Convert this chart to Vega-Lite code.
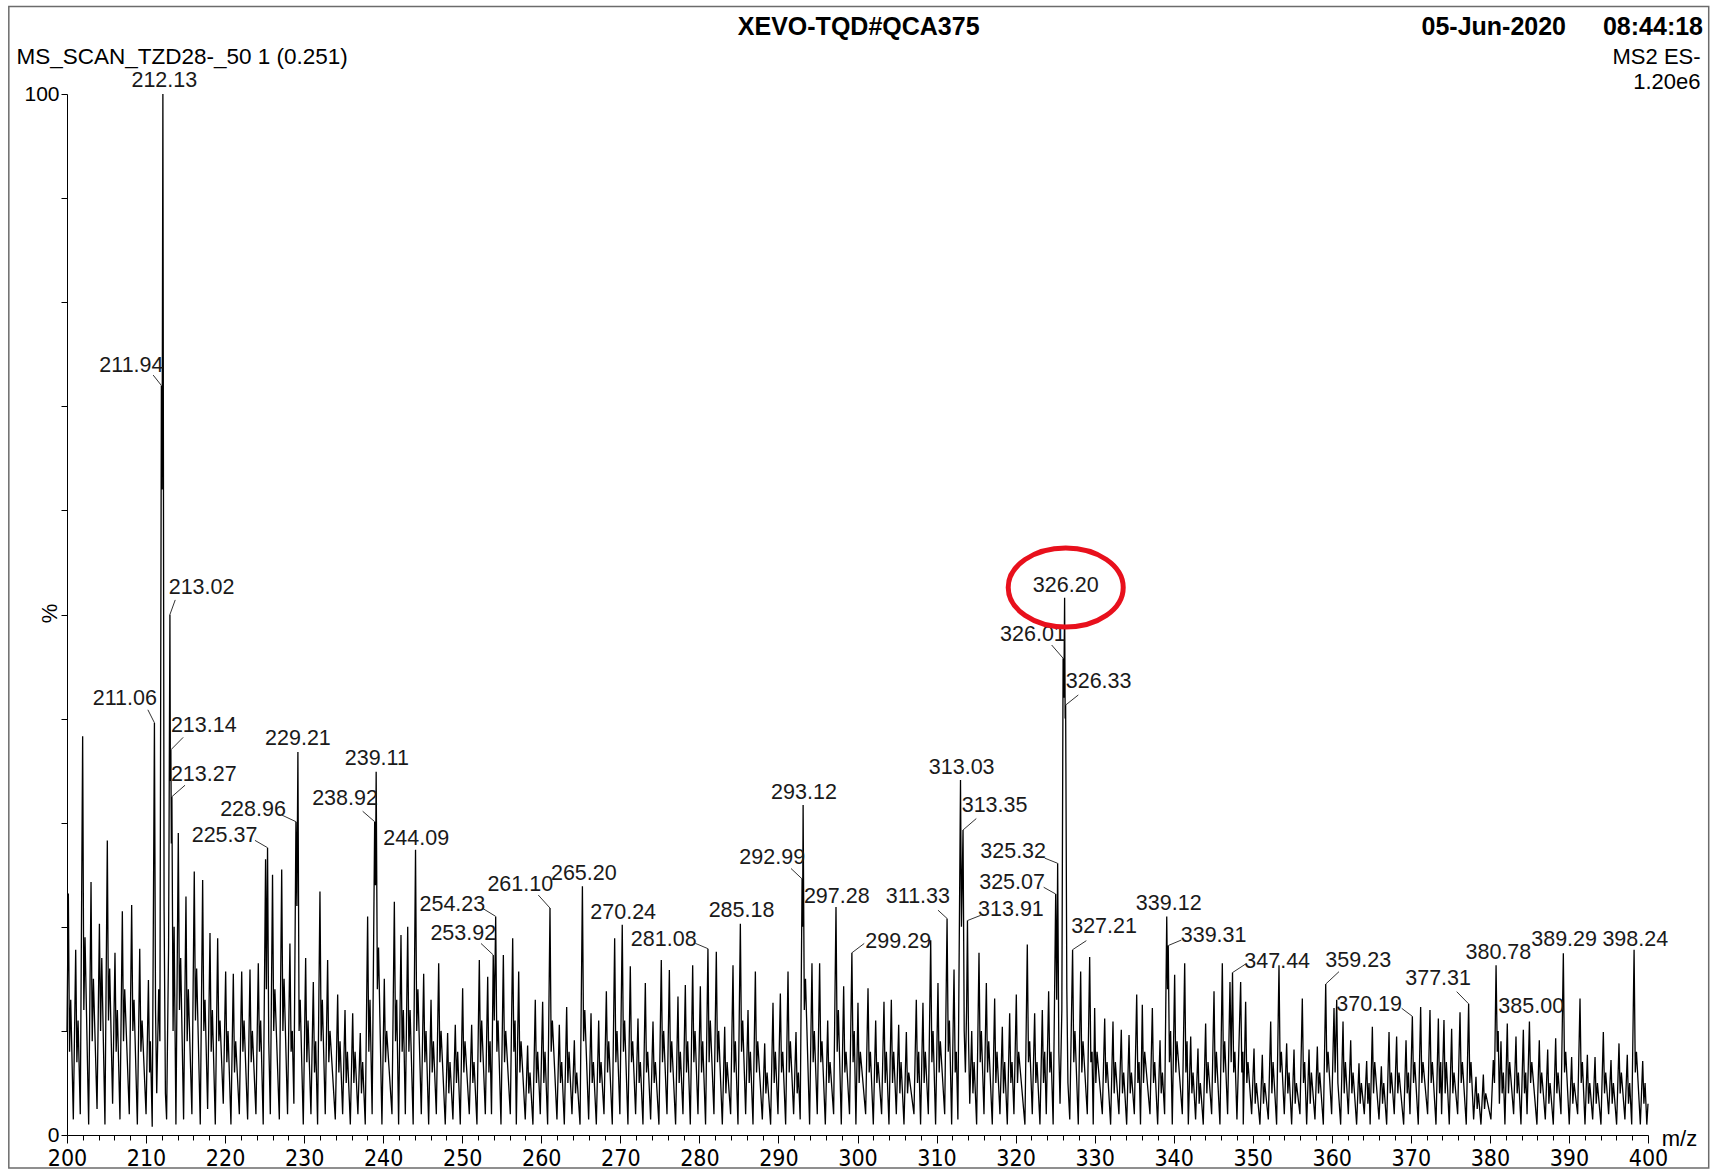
{
"$schema": "https://vega.github.io/schema/vega-lite/v6.json",
"width": 1581, "height": 1041,
"autosize": "none",
"padding": {"left": 67, "top": 94, "right": 69, "bottom": 37},
"background": "white",
"config": {"view": {"stroke": null}, "font": "Liberation Sans", "axis": {"grid": false}},
"datasets": {
"one": [{"k": 1}],
"spec": [
{"x":200.0,"y":10},{"x":200.17,"y":23.2},{"x":200.32,"y":8},{"x":200.47,"y":13},
{"x":200.8,"y":1.5},{"x":201.1,"y":17.8},{"x":201.25,"y":7},{"x":201.4,"y":11},
{"x":201.68,"y":2},{"x":201.98,"y":38.3},{"x":202.13,"y":12},{"x":202.28,"y":19},
{"x":202.74,"y":1},{"x":203.04,"y":24.3},{"x":203.19,"y":9},{"x":203.34,"y":15},
{"x":203.8,"y":2.5},{"x":204.1,"y":20.3},{"x":204.25,"y":10},{"x":204.4,"y":17},
{"x":204.8,"y":1},{"x":205.1,"y":28.3},{"x":205.25,"y":11},{"x":205.4,"y":16},
{"x":205.77,"y":3},{"x":206.07,"y":17.5},{"x":206.22,"y":8},{"x":206.37,"y":12},
{"x":206.7,"y":1.5},{"x":207.0,"y":21.5},{"x":207.15,"y":9},{"x":207.3,"y":14},
{"x":207.88,"y":2},{"x":208.18,"y":22.1},{"x":208.33,"y":10},{"x":208.48,"y":13},
{"x":208.9,"y":1},{"x":209.2,"y":17.9},{"x":209.35,"y":8},{"x":209.5,"y":11},
{"x":210.0,"y":2},{"x":210.3,"y":14.9},{"x":210.45,"y":6},{"x":210.55,"y":9},{"x":210.78,"y":0.8},
{"x":211.06,"y":39.6},{"x":211.2,"y":12},{"x":211.35,"y":4},{"x":211.6,"y":14},{"x":211.75,"y":9},
{"x":211.94,"y":72},{"x":212.03,"y":62},{"x":212.13,"y":100},{"x":212.28,"y":22},{"x":212.45,"y":4},
{"x":212.6,"y":1.5},{"x":212.85,"y":18},{"x":213.02,"y":50},{"x":213.08,"y":34},{"x":213.14,"y":37},
{"x":213.2,"y":28},{"x":213.27,"y":32.5},{"x":213.42,"y":10},{"x":213.55,"y":20},{"x":213.78,"y":1},
{"x":214.08,"y":29},{"x":214.23,"y":12},{"x":214.38,"y":17},
{"x":214.75,"y":1.5},{"x":215.05,"y":22.9},{"x":215.2,"y":9},{"x":215.35,"y":14},
{"x":215.8,"y":2},{"x":216.1,"y":25.3},{"x":216.25,"y":11},{"x":216.4,"y":16},
{"x":216.86,"y":1},{"x":217.16,"y":24.5},{"x":217.31,"y":10},{"x":217.46,"y":13},
{"x":217.79,"y":2.5},{"x":218.09,"y":19.4},{"x":218.24,"y":8},{"x":218.39,"y":12},
{"x":218.76,"y":1},{"x":219.06,"y":18.9},{"x":219.21,"y":9},{"x":219.36,"y":11},
{"x":219.77,"y":3},{"x":220.07,"y":15.7},{"x":220.22,"y":7},{"x":220.37,"y":10},
{"x":220.74,"y":1},{"x":221.04,"y":15.5},{"x":221.19,"y":6},{"x":221.34,"y":9},
{"x":221.8,"y":2},{"x":222.1,"y":15.7},{"x":222.25,"y":8},{"x":222.4,"y":11},
{"x":222.85,"y":1.5},{"x":223.15,"y":15.9},{"x":223.3,"y":7},{"x":223.45,"y":10},
{"x":223.9,"y":2},{"x":224.2,"y":16.5},{"x":224.35,"y":8},{"x":224.5,"y":11},
{"x":224.82,"y":1},{"x":225.12,"y":26.5},{"x":225.22,"y":14},{"x":225.37,"y":27.6},{"x":225.52,"y":9},
{"x":225.72,"y":2},{"x":226.0,"y":25},{"x":226.15,"y":10},{"x":226.3,"y":14},
{"x":226.86,"y":1.5},{"x":227.16,"y":25.5},{"x":227.31,"y":10},{"x":227.46,"y":15},
{"x":227.9,"y":2},{"x":228.2,"y":18.4},{"x":228.35,"y":8},{"x":228.5,"y":10},{"x":228.7,"y":3},
{"x":228.96,"y":30.1},{"x":229.08,"y":22},{"x":229.21,"y":36.8},{"x":229.36,"y":10},{"x":229.5,"y":13},
{"x":229.89,"y":1},{"x":230.19,"y":17},{"x":230.34,"y":7},{"x":230.49,"y":11},
{"x":230.86,"y":2},{"x":231.16,"y":14.7},{"x":231.31,"y":6},{"x":231.46,"y":9},
{"x":231.7,"y":1},{"x":232.0,"y":23.4},{"x":232.15,"y":9},{"x":232.3,"y":13},
{"x":232.67,"y":2},{"x":232.97,"y":16.8},{"x":233.12,"y":7},{"x":233.27,"y":10},
{"x":233.94,"y":1.5},{"x":234.24,"y":13.5},{"x":234.39,"y":6},{"x":234.54,"y":9},
{"x":234.87,"y":2},{"x":235.17,"y":12},{"x":235.32,"y":5},{"x":235.47,"y":8},
{"x":235.84,"y":1},{"x":236.14,"y":11.7},{"x":236.29,"y":5},{"x":236.44,"y":8},
{"x":236.8,"y":2},{"x":237.1,"y":9.8},{"x":237.25,"y":4},{"x":237.4,"y":7},
{"x":237.73,"y":1},{"x":238.03,"y":21},{"x":238.18,"y":8},{"x":238.33,"y":13},{"x":238.6,"y":2},
{"x":238.92,"y":30.1},{"x":239.02,"y":24},{"x":239.11,"y":34.9},{"x":239.26,"y":14},{"x":239.41,"y":18},
{"x":239.84,"y":1},{"x":240.14,"y":15},{"x":240.29,"y":7},{"x":240.44,"y":10},
{"x":241.11,"y":2},{"x":241.41,"y":22.4},{"x":241.56,"y":9},{"x":241.71,"y":13},
{"x":241.95,"y":1},{"x":242.25,"y":19.2},{"x":242.4,"y":8},{"x":242.55,"y":12},
{"x":242.8,"y":2},{"x":243.1,"y":20},{"x":243.25,"y":8},{"x":243.4,"y":12},
{"x":243.79,"y":1},{"x":244.09,"y":27.4},{"x":244.24,"y":10},{"x":244.39,"y":14},
{"x":244.82,"y":2},{"x":245.12,"y":15.5},{"x":245.27,"y":7},{"x":245.42,"y":10},
{"x":245.75,"y":1},{"x":246.05,"y":13},{"x":246.2,"y":6},{"x":246.35,"y":9},
{"x":246.72,"y":2},{"x":247.02,"y":16.5},{"x":247.17,"y":7},{"x":247.32,"y":10},
{"x":247.85,"y":1},{"x":248.15,"y":9.8},{"x":248.3,"y":4},{"x":248.45,"y":7},
{"x":248.82,"y":1.5},{"x":249.12,"y":10.6},{"x":249.27,"y":5},{"x":249.42,"y":8},
{"x":249.75,"y":1},{"x":250.05,"y":14.1},{"x":250.2,"y":6},{"x":250.35,"y":9},
{"x":250.89,"y":2},{"x":251.19,"y":10.6},{"x":251.34,"y":5},{"x":251.49,"y":7},
{"x":251.86,"y":1},{"x":252.16,"y":16.8},{"x":252.31,"y":7},{"x":252.46,"y":11},
{"x":252.92,"y":2},{"x":253.22,"y":15.2},{"x":253.37,"y":6},{"x":253.52,"y":9},{"x":253.7,"y":2},
{"x":253.92,"y":17.3},{"x":254.05,"y":11},{"x":254.23,"y":21},{"x":254.38,"y":8},{"x":254.53,"y":11},
{"x":254.9,"y":1},{"x":255.2,"y":17.3},{"x":255.35,"y":7},{"x":255.5,"y":10},
{"x":256.08,"y":2},{"x":256.38,"y":18.9},{"x":256.53,"y":8},{"x":256.68,"y":11},
{"x":256.84,"y":1},{"x":257.14,"y":15.7},{"x":257.29,"y":6},{"x":257.44,"y":9},
{"x":257.97,"y":1.5},{"x":258.27,"y":8.6},{"x":258.42,"y":4},{"x":258.57,"y":6},
{"x":258.94,"y":1},{"x":259.24,"y":13},{"x":259.39,"y":5},{"x":259.54,"y":8},
{"x":259.87,"y":2},{"x":260.17,"y":12.8},{"x":260.32,"y":5},{"x":260.47,"y":8},
{"x":260.8,"y":1},{"x":261.1,"y":21.8},{"x":261.25,"y":8},{"x":261.4,"y":11},
{"x":261.98,"y":1.5},{"x":262.28,"y":10.6},{"x":262.43,"y":5},{"x":262.58,"y":7},
{"x":262.91,"y":1},{"x":263.21,"y":12.3},{"x":263.36,"y":5},{"x":263.51,"y":8},
{"x":263.88,"y":2},{"x":264.18,"y":9.1},{"x":264.33,"y":4},{"x":264.48,"y":6},
{"x":264.9,"y":1},{"x":265.2,"y":23.9},{"x":265.35,"y":9},{"x":265.5,"y":12},
{"x":265.99,"y":1.5},{"x":266.29,"y":11.7},{"x":266.44,"y":5},{"x":266.59,"y":7},
{"x":266.96,"y":1},{"x":267.26,"y":11},{"x":267.41,"y":5},{"x":267.56,"y":7},
{"x":267.93,"y":2},{"x":268.23,"y":13.8},{"x":268.38,"y":6},{"x":268.53,"y":9},
{"x":268.98,"y":1},{"x":269.28,"y":18.9},{"x":269.43,"y":7},{"x":269.58,"y":10},
{"x":269.94,"y":2},{"x":270.24,"y":20.2},{"x":270.39,"y":8},{"x":270.54,"y":11},
{"x":270.96,"y":1},{"x":271.26,"y":16.2},{"x":271.41,"y":7},{"x":271.56,"y":9},
{"x":271.93,"y":2},{"x":272.23,"y":11.2},{"x":272.38,"y":5},{"x":272.53,"y":7},
{"x":272.86,"y":1},{"x":273.16,"y":14.6},{"x":273.31,"y":6},{"x":273.46,"y":8},
{"x":273.83,"y":1.5},{"x":274.13,"y":10.9},{"x":274.28,"y":5},{"x":274.43,"y":7},
{"x":274.88,"y":1},{"x":275.18,"y":16.8},{"x":275.33,"y":7},{"x":275.48,"y":10},
{"x":275.9,"y":2},{"x":276.2,"y":15.85},{"x":276.35,"y":6},{"x":276.5,"y":9},
{"x":276.99,"y":1},{"x":277.29,"y":13.3},{"x":277.44,"y":5},{"x":277.59,"y":8},
{"x":277.92,"y":2},{"x":278.22,"y":14.4},{"x":278.37,"y":6},{"x":278.52,"y":9},
{"x":278.85,"y":1},{"x":279.15,"y":16.3},{"x":279.3,"y":7},{"x":279.45,"y":10},
{"x":279.82,"y":2},{"x":280.12,"y":14.3},{"x":280.27,"y":6},{"x":280.42,"y":9},
{"x":280.78,"y":1},{"x":281.08,"y":17.9},{"x":281.23,"y":7},{"x":281.38,"y":11},
{"x":281.84,"y":2},{"x":282.14,"y":17.6},{"x":282.29,"y":7},{"x":282.44,"y":10},
{"x":282.9,"y":1},{"x":283.2,"y":10.4},{"x":283.35,"y":4},{"x":283.5,"y":7},
{"x":283.95,"y":2},{"x":284.25,"y":16.3},{"x":284.4,"y":6},{"x":284.55,"y":9},
{"x":284.88,"y":1},{"x":285.18,"y":20.3},{"x":285.33,"y":8},{"x":285.48,"y":11},
{"x":285.85,"y":2},{"x":286.15,"y":12},{"x":286.3,"y":5},{"x":286.45,"y":8},
{"x":286.78,"y":1},{"x":287.08,"y":15.7},{"x":287.23,"y":6},{"x":287.38,"y":9},
{"x":287.96,"y":1.5},{"x":288.26,"y":8.8},{"x":288.41,"y":4},{"x":288.56,"y":6},
{"x":289.01,"y":1},{"x":289.31,"y":12.7},{"x":289.46,"y":5},{"x":289.61,"y":8},
{"x":289.94,"y":2},{"x":290.24,"y":13.6},{"x":290.39,"y":6},{"x":290.54,"y":8},
{"x":290.91,"y":1},{"x":291.21,"y":15.7},{"x":291.36,"y":6},{"x":291.51,"y":9},
{"x":291.92,"y":2},{"x":292.22,"y":9.9},{"x":292.37,"y":4},{"x":292.52,"y":6},{"x":292.75,"y":1.5},
{"x":292.99,"y":24.6},{"x":293.05,"y":20},{"x":293.12,"y":31.7},{"x":293.27,"y":12},{"x":293.42,"y":15},
{"x":293.94,"y":1},{"x":294.24,"y":16.5},{"x":294.39,"y":7},{"x":294.54,"y":10},
{"x":294.91,"y":2},{"x":295.21,"y":16.5},{"x":295.36,"y":7},{"x":295.51,"y":9},
{"x":295.93,"y":1},{"x":296.23,"y":11},{"x":296.38,"y":5},{"x":296.53,"y":7},
{"x":296.98,"y":2},{"x":297.28,"y":21.9},{"x":297.43,"y":8},{"x":297.58,"y":12},
{"x":297.95,"y":1},{"x":298.25,"y":14.3},{"x":298.4,"y":6},{"x":298.55,"y":8},
{"x":298.99,"y":2},{"x":299.29,"y":17.5},{"x":299.44,"y":7},{"x":299.59,"y":10},
{"x":299.8,"y":1},{"x":300.06,"y":12.7},{"x":300.21,"y":5},{"x":300.36,"y":8},
{"x":301.03,"y":2},{"x":301.33,"y":14.1},{"x":301.48,"y":6},{"x":301.63,"y":8},
{"x":302.0,"y":1},{"x":302.3,"y":11},{"x":302.45,"y":5},{"x":302.6,"y":7},
{"x":303.05,"y":2},{"x":303.35,"y":12.8},{"x":303.5,"y":5},{"x":303.65,"y":8},
{"x":303.98,"y":1},{"x":304.28,"y":13},{"x":304.43,"y":5},{"x":304.58,"y":8},
{"x":304.91,"y":2},{"x":305.21,"y":10.6},{"x":305.36,"y":4},{"x":305.51,"y":7},
{"x":305.88,"y":1},{"x":306.18,"y":9.9},{"x":306.33,"y":4},{"x":306.48,"y":6},
{"x":307.14,"y":2},{"x":307.44,"y":13},{"x":307.59,"y":5},{"x":307.74,"y":8},
{"x":307.98,"y":1},{"x":308.28,"y":12.7},{"x":308.43,"y":5},{"x":308.58,"y":8},
{"x":308.96,"y":2},{"x":309.26,"y":18.7},{"x":309.41,"y":7},{"x":309.56,"y":10},
{"x":309.88,"y":1},{"x":310.18,"y":14.6},{"x":310.33,"y":6},{"x":310.48,"y":9},
{"x":311.03,"y":2},{"x":311.33,"y":20.8},{"x":311.48,"y":8},{"x":311.63,"y":11},
{"x":311.91,"y":1},{"x":312.21,"y":15.9},{"x":312.36,"y":6},{"x":312.5,"y":8},{"x":312.7,"y":1.5},
{"x":313.03,"y":34.1},{"x":313.15,"y":20},{"x":313.35,"y":29.3},{"x":313.5,"y":10},{"x":313.65,"y":6},
{"x":313.8,"y":12},{"x":313.91,"y":20.6},{"x":314.05,"y":9},
{"x":314.2,"y":3},{"x":314.45,"y":10},{"x":314.6,"y":4},{"x":314.75,"y":7},
{"x":315.07,"y":1},{"x":315.37,"y":17.5},{"x":315.52,"y":7},{"x":315.67,"y":10},
{"x":316.0,"y":2},{"x":316.3,"y":14.6},{"x":316.45,"y":6},{"x":316.6,"y":9},
{"x":317.05,"y":1},{"x":317.35,"y":13.1},{"x":317.5,"y":5},{"x":317.65,"y":8},
{"x":318.02,"y":2},{"x":318.32,"y":10.4},{"x":318.47,"y":4},{"x":318.62,"y":7},
{"x":318.95,"y":1},{"x":319.25,"y":11.7},{"x":319.4,"y":5},{"x":319.55,"y":7},
{"x":319.79,"y":2},{"x":320.09,"y":13.5},{"x":320.24,"y":5},{"x":320.39,"y":8},
{"x":321.18,"y":1},{"x":321.48,"y":18.3},{"x":321.63,"y":7},{"x":321.78,"y":9},
{"x":322.11,"y":2},{"x":322.41,"y":11.7},{"x":322.56,"y":5},{"x":322.71,"y":7},
{"x":323.08,"y":1},{"x":323.38,"y":12},{"x":323.53,"y":5},{"x":323.68,"y":8},
{"x":323.88,"y":2},{"x":324.18,"y":13.8},{"x":324.33,"y":6},{"x":324.48,"y":8},{"x":324.75,"y":1},
{"x":325.07,"y":23.15},{"x":325.2,"y":13},{"x":325.32,"y":26.1},{"x":325.47,"y":8},{"x":325.62,"y":3},{"x":325.85,"y":12},
{"x":326.01,"y":45.8},{"x":326.1,"y":42},{"x":326.2,"y":51.6},{"x":326.27,"y":40},{"x":326.33,"y":41.3},
{"x":326.48,"y":14},{"x":326.62,"y":5},{"x":326.85,"y":1.5},
{"x":327.21,"y":17.8},{"x":327.36,"y":7},{"x":327.51,"y":10},
{"x":327.93,"y":1},{"x":328.23,"y":15.7},{"x":328.38,"y":6},{"x":328.53,"y":9},
{"x":329.07,"y":2},{"x":329.37,"y":17.1},{"x":329.52,"y":7},{"x":329.67,"y":8},
{"x":329.82,"y":1},{"x":330.0,"y":12.2},{"x":330.15,"y":5},{"x":330.3,"y":8},
{"x":330.97,"y":2},{"x":331.27,"y":11.2},{"x":331.42,"y":5},{"x":331.57,"y":7},
{"x":332.02,"y":1},{"x":332.32,"y":10.9},{"x":332.47,"y":4},{"x":332.62,"y":7},
{"x":333.07,"y":2},{"x":333.37,"y":10.1},{"x":333.52,"y":4},{"x":333.67,"y":6},
{"x":334.05,"y":1},{"x":334.35,"y":9.6},{"x":334.5,"y":4},{"x":334.65,"y":6},
{"x":335.02,"y":2},{"x":335.32,"y":13.5},{"x":335.47,"y":5},{"x":335.62,"y":7},
{"x":335.8,"y":1},{"x":336.03,"y":12.5},{"x":336.18,"y":5},{"x":336.33,"y":8},
{"x":337.0,"y":2},{"x":337.3,"y":12.2},{"x":337.45,"y":5},{"x":337.6,"y":7},
{"x":337.97,"y":1},{"x":338.27,"y":9.1},{"x":338.42,"y":4},{"x":338.57,"y":6},{"x":338.85,"y":2},
{"x":339.12,"y":21},{"x":339.22,"y":14},{"x":339.31,"y":18.2},{"x":339.46,"y":7},{"x":339.61,"y":10},
{"x":339.82,"y":1},{"x":340.12,"y":15.4},{"x":340.27,"y":6},{"x":340.42,"y":9},
{"x":341.09,"y":2},{"x":341.39,"y":16.5},{"x":341.54,"y":6},{"x":341.69,"y":9},
{"x":341.85,"y":1},{"x":342.15,"y":9.45},{"x":342.3,"y":4},{"x":342.45,"y":6},
{"x":342.77,"y":1.5},{"x":343.07,"y":8.3},{"x":343.22,"y":3},{"x":343.37,"y":5},
{"x":343.74,"y":1},{"x":344.04,"y":10.7},{"x":344.19,"y":4},{"x":344.34,"y":7},
{"x":344.8,"y":2},{"x":345.1,"y":13.8},{"x":345.25,"y":5},{"x":345.4,"y":8},
{"x":345.85,"y":1},{"x":346.15,"y":16.5},{"x":346.3,"y":6},{"x":346.45,"y":9},
{"x":346.82,"y":2},{"x":347.12,"y":14.7},{"x":347.27,"y":7},{"x":347.44,"y":15.6},{"x":347.59,"y":6},{"x":347.74,"y":8},
{"x":348.0,"y":1.5},{"x":348.47,"y":14.7},{"x":348.62,"y":6},{"x":348.75,"y":8},
{"x":348.8,"y":1},{"x":349.1,"y":12.8},{"x":349.25,"y":5},{"x":349.4,"y":7},
{"x":349.86,"y":2},{"x":350.16,"y":8.3},{"x":350.31,"y":3},{"x":350.46,"y":5},
{"x":350.91,"y":1},{"x":351.21,"y":7.7},{"x":351.36,"y":3},{"x":351.51,"y":5},
{"x":351.97,"y":1.5},{"x":352.27,"y":10.9},{"x":352.42,"y":4},{"x":352.57,"y":7},
{"x":353.02,"y":1},{"x":353.32,"y":16.3},{"x":353.47,"y":6},{"x":353.62,"y":8},
{"x":353.99,"y":2},{"x":354.29,"y":8.8},{"x":354.44,"y":4},{"x":354.59,"y":6},
{"x":354.92,"y":1},{"x":355.22,"y":8.2},{"x":355.37,"y":3},{"x":355.52,"y":5},
{"x":355.97,"y":2},{"x":356.27,"y":13.1},{"x":356.42,"y":5},{"x":356.57,"y":7},
{"x":356.82,"y":1},{"x":357.12,"y":8.2},{"x":357.27,"y":3},{"x":357.42,"y":6},
{"x":357.87,"y":1.5},{"x":358.17,"y":8.5},{"x":358.32,"y":4},{"x":358.47,"y":6},
{"x":358.93,"y":1},{"x":359.23,"y":14.5},{"x":359.38,"y":6},{"x":359.53,"y":8},
{"x":359.98,"y":2},{"x":360.28,"y":12.2},{"x":360.42,"y":6},{"x":360.62,"y":13},{"x":360.77,"y":5},
{"x":361.12,"y":1},{"x":361.42,"y":10.9},{"x":361.57,"y":4},{"x":361.72,"y":7},
{"x":362.09,"y":2},{"x":362.39,"y":9.1},{"x":362.54,"y":4},{"x":362.69,"y":6},
{"x":363.14,"y":1},{"x":363.44,"y":6.9},{"x":363.59,"y":3},{"x":363.74,"y":5},
{"x":364.11,"y":2},{"x":364.41,"y":7.1},{"x":364.56,"y":3},{"x":364.71,"y":5},
{"x":364.85,"y":1},{"x":365.13,"y":10.4},{"x":365.28,"y":4},{"x":365.43,"y":7},
{"x":365.97,"y":1.5},{"x":366.27,"y":6.6},{"x":366.42,"y":3},{"x":366.57,"y":5},
{"x":366.94,"y":1},{"x":367.24,"y":9.9},{"x":367.39,"y":4},{"x":367.54,"y":6},
{"x":367.9,"y":2},{"x":368.2,"y":9.45},{"x":368.35,"y":4},{"x":368.5,"y":6},
{"x":369.09,"y":1},{"x":369.39,"y":9.1},{"x":369.54,"y":4},{"x":369.69,"y":6},
{"x":369.89,"y":2},{"x":370.19,"y":11.4},{"x":370.34,"y":5},{"x":370.49,"y":7},
{"x":370.94,"y":1},{"x":371.24,"y":12.3},{"x":371.39,"y":5},{"x":371.54,"y":7},
{"x":372.12,"y":2},{"x":372.42,"y":12},{"x":372.57,"y":5},{"x":372.72,"y":7},
{"x":373.18,"y":1},{"x":373.48,"y":11.2},{"x":373.63,"y":4},{"x":373.78,"y":7},
{"x":373.89,"y":2},{"x":374.19,"y":11.05},{"x":374.34,"y":4},{"x":374.49,"y":7},
{"x":374.86,"y":1},{"x":375.16,"y":10.2},{"x":375.31,"y":4},{"x":375.46,"y":6},
{"x":375.92,"y":2},{"x":376.22,"y":11.8},{"x":376.37,"y":5},{"x":376.52,"y":7},
{"x":377.01,"y":1},{"x":377.31,"y":12.6},{"x":377.46,"y":5},{"x":377.61,"y":7},
{"x":377.94,"y":1.5},{"x":378.24,"y":5.6},{"x":378.39,"y":2.5},{"x":378.54,"y":4},
{"x":378.87,"y":1},{"x":379.17,"y":5.8},{"x":379.32,"y":2.5},{"x":379.47,"y":4},
{"x":380.13,"y":1.5},{"x":380.43,"y":7.2},{"x":380.58,"y":5},{"x":380.78,"y":16.3},{"x":380.93,"y":8},{"x":381.05,"y":10},
{"x":381.2,"y":3},{"x":381.4,"y":9},{"x":381.55,"y":4},{"x":381.7,"y":6},
{"x":381.9,"y":1},{"x":382.2,"y":10.7},{"x":382.35,"y":4},{"x":382.5,"y":7},
{"x":383.0,"y":2},{"x":383.3,"y":9.45},{"x":383.45,"y":4},{"x":383.6,"y":6},
{"x":383.93,"y":1},{"x":384.23,"y":10.1},{"x":384.38,"y":4},{"x":384.53,"y":6},
{"x":384.7,"y":2},{"x":385.0,"y":10.9},{"x":385.15,"y":5},{"x":385.3,"y":7},
{"x":385.95,"y":1},{"x":386.25,"y":9.1},{"x":386.4,"y":4},{"x":386.55,"y":6},
{"x":387.01,"y":1.5},{"x":387.31,"y":8.2},{"x":387.46,"y":3},{"x":387.61,"y":5},
{"x":388.02,"y":1},{"x":388.32,"y":9.3},{"x":388.47,"y":4},{"x":388.62,"y":6},
{"x":388.99,"y":2},{"x":389.29,"y":17.45},{"x":389.44,"y":6},{"x":389.59,"y":8},
{"x":390.04,"y":1},{"x":390.34,"y":7.5},{"x":390.49,"y":3},{"x":390.64,"y":5},
{"x":391.1,"y":2},{"x":391.4,"y":13.1},{"x":391.55,"y":5},{"x":391.7,"y":7},
{"x":392.03,"y":1},{"x":392.33,"y":7.7},{"x":392.48,"y":3},{"x":392.63,"y":5},
{"x":393.0,"y":1.5},{"x":393.3,"y":7.5},{"x":393.45,"y":3},{"x":393.6,"y":5},
{"x":394.05,"y":1},{"x":394.35,"y":9.9},{"x":394.5,"y":4},{"x":394.65,"y":6},
{"x":395.02,"y":2},{"x":395.32,"y":7.2},{"x":395.47,"y":3},{"x":395.62,"y":5},
{"x":396.03,"y":1},{"x":396.33,"y":8.8},{"x":396.48,"y":4},{"x":396.63,"y":6},
{"x":397.08,"y":1.5},{"x":397.38,"y":7.7},{"x":397.53,"y":3},{"x":397.68,"y":5},
{"x":397.94,"y":1},{"x":398.24,"y":17.8},{"x":398.39,"y":6},{"x":398.54,"y":8},
{"x":399.03,"y":1},{"x":399.33,"y":7.1},{"x":399.48,"y":3},{"x":399.63,"y":5},
{"x":399.85,"y":1},{"x":400.0,"y":3}
],
"labels": [
{"t":"212.13","lx":212.31,"ly":101.24},{"t":"211.94","lx":208.15,"ly":73.9},{"t":"213.02","lx":217.02,"ly":52.5},
{"t":"211.06","lx":207.32,"ly":41.9},{"t":"213.14","lx":217.3,"ly":39.3},{"t":"213.27","lx":217.3,"ly":34.6},
{"t":"229.21","lx":229.21,"ly":38.0},{"t":"228.96","lx":223.53,"ly":31.2},{"t":"225.37","lx":219.93,"ly":28.7},
{"t":"239.11","lx":239.19,"ly":36.1},{"t":"238.92","lx":235.17,"ly":32.3},{"t":"244.09","lx":244.18,"ly":28.4},
{"t":"254.23","lx":248.75,"ly":22.1},{"t":"253.92","lx":250.13,"ly":19.3},{"t":"261.10","lx":257.34,"ly":24.0},
{"t":"265.20","lx":265.38,"ly":25.1},{"t":"270.24","lx":270.36,"ly":21.3},{"t":"281.08","lx":275.49,"ly":18.7},
{"t":"285.18","lx":285.33,"ly":21.5},{"t":"293.12","lx":293.23,"ly":32.85},{"t":"292.99","lx":289.21,"ly":26.6},
{"t":"297.28","lx":297.38,"ly":22.9},{"t":"299.29","lx":305.15,"ly":18.5},{"t":"311.33","lx":307.64,"ly":22.9},
{"t":"313.03","lx":313.18,"ly":35.3},{"t":"313.35","lx":317.34,"ly":31.6},{"t":"313.91","lx":319.41,"ly":21.6},
{"t":"325.32","lx":319.69,"ly":27.2},{"t":"325.07","lx":319.55,"ly":24.2},{"t":"326.20","lx":326.34,"ly":52.7},
{"t":"326.01","lx":322.19,"ly":48.0},{"t":"326.33","lx":330.5,"ly":43.5},{"t":"327.21","lx":331.19,"ly":20.0},
{"t":"339.12","lx":339.37,"ly":22.2},{"t":"339.31","lx":345.05,"ly":19.07},{"t":"347.44","lx":353.09,"ly":16.6},
{"t":"359.23","lx":363.34,"ly":16.7},{"t":"370.19","lx":364.72,"ly":12.5},{"t":"377.31","lx":373.45,"ly":14.96},
{"t":"380.78","lx":381.07,"ly":17.5},{"t":"385.00","lx":385.23,"ly":12.3},{"t":"389.29","lx":389.39,"ly":18.75},
{"t":"398.24","lx":398.39,"ly":18.75}
],
"leads": [
{"x1":210.9,"y1":73.0,"x2":211.94,"y2":72},{"x1":213.69,"y1":51.4,"x2":213.02,"y2":50},
{"x1":210.23,"y1":40.85,"x2":211.06,"y2":39.6},{"x1":214.7,"y1":38.2,"x2":213.14,"y2":37},
{"x1":214.93,"y1":33.6,"x2":213.27,"y2":32.5},{"x1":227.16,"y1":30.74,"x2":228.96,"y2":30.1},
{"x1":223.78,"y1":28.3,"x2":225.37,"y2":27.6},{"x1":237.4,"y1":31.1,"x2":238.92,"y2":30.1},
{"x1":252.58,"y1":21.77,"x2":254.23,"y2":21.0},{"x1":252.37,"y1":18.4,"x2":253.92,"y2":17.3},
{"x1":259.62,"y1":23.05,"x2":261.1,"y2":21.8},{"x1":279.49,"y1":18.41,"x2":281.08,"y2":17.9},
{"x1":291.59,"y1":25.6,"x2":292.99,"y2":24.6},{"x1":300.85,"y1":18.4,"x2":299.29,"y2":17.5},
{"x1":310.18,"y1":21.6,"x2":311.33,"y2":20.8},{"x1":315.03,"y1":30.4,"x2":313.35,"y2":29.3},
{"x1":315.58,"y1":21.1,"x2":313.91,"y2":20.6},{"x1":323.68,"y1":26.6,"x2":325.32,"y2":26.1},
{"x1":323.55,"y1":23.8,"x2":325.07,"y2":23.15},{"x1":324.56,"y1":47.07,"x2":326.01,"y2":45.8},
{"x1":327.93,"y1":42.27,"x2":326.33,"y2":41.3},{"x1":328.95,"y1":18.67,"x2":327.21,"y2":17.8},
{"x1":340.97,"y1":18.73,"x2":339.31,"y2":18.2},{"x1":349.23,"y1":16.49,"x2":347.44,"y2":15.6},
{"x1":360.91,"y1":15.69,"x2":359.23,"y2":14.5},{"x1":368.84,"y1":12.17,"x2":370.19,"y2":11.4},
{"x1":375.8,"y1":13.77,"x2":377.31,"y2":12.6}
]
},
"layer": [
{"data": {"name": "one"},
 "mark": {"type": "rect", "fillOpacity": 0, "stroke": "#6b6b6b", "strokeWidth": 1.5},
 "encoding": {"x": {"datum": 192.64, "type": "quantitative"}, "x2": {"datum": 407.68}, "y": {"datum": 108.4, "type": "quantitative"}, "y2": {"datum": -3.17}}},
{"data": {"name": "spec"},
 "mark": {"type": "line", "color": "black", "strokeWidth": 1.3, "strokeJoin": "bevel"},
 "encoding": {
  "x": {"field": "x", "type": "quantitative", "scale": {"domain": [200, 400], "nice": false, "zero": false},
   "axis": {"title": "m/z", "titleX": 1612, "titleY": 3, "titleAlign": "center", "titleBaseline": "middle", "titleFont": "Liberation Sans", "titleFontSize": 22, "titleFontWeight": "normal", "titleColor": "black", "titleAnchor": null,
    "tickCount": 100, "format": "d", "labelExpr": "datum.value % 10 === 0 ? datum.label : ''", "labelOverlap": false, "labelFlush": false,
    "labelFont": "DejaVu Sans Condensed, Liberation Sans Narrow, sans-serif", "labelFontSize": 23, "labelColor": "black", "labelPadding": 4,
    "tickColor": "black", "domainColor": "black", "domainWidth": 1, "tickWidth": 1,
    "tickSize": {"condition": {"test": "datum.value % 10 === 0", "value": 8}, "value": 5}}},
  "y": {"field": "y", "type": "quantitative", "scale": {"domain": [0, 100], "nice": false, "zero": true},
   "axis": {"title": "%", "titleX": -18, "titleY": 519, "titleAngle": -90, "titleAlign": "center", "titleBaseline": "middle", "titleFont": "Liberation Sans", "titleFontSize": 22, "titleFontWeight": "normal", "titleColor": "black", "titleAnchor": null,
    "values": [0, 10, 20, 30, 40, 50, 60, 70, 80, 90, 100], "labelExpr": "datum.value === 0 || datum.value === 100 ? datum.label : ''", "labelOverlap": false, "labelFlush": false,
    "labelFont": "Liberation Sans", "labelFontSize": 21, "labelColor": "black", "labelPadding": 2, "labelBaseline": "middle",
    "tickColor": "black", "domainColor": "black", "tickSize": 6}}
 }},
{"data": {"name": "leads"},
 "mark": {"type": "rule", "color": "#333333", "strokeWidth": 1},
 "encoding": {"x": {"field": "x1", "type": "quantitative"}, "y": {"field": "y1", "type": "quantitative"}, "x2": {"field": "x2"}, "y2": {"field": "y2"}}},
{"data": {"name": "labels"},
 "mark": {"type": "text", "font": "Liberation Sans", "fontSize": 21.5, "color": "#1a1a1a", "align": "center", "baseline": "middle"},
 "encoding": {"x": {"field": "lx", "type": "quantitative"}, "y": {"field": "ly", "type": "quantitative"}, "text": {"field": "t", "type": "nominal"}}},
{"data": {"name": "one"},
 "mark": {"type": "point", "shape": "M 1 0 C 1 0.3794 0.5523 0.687 0 0.687 C -0.5523 0.687 -1 0.3794 -1 0 C -1 -0.3794 -0.5523 -0.687 0 -0.687 C 0.5523 -0.687 1 -0.3794 1 0 Z", "filled": false, "stroke": "#e8101c", "strokeWidth": 5, "size": 13225, "opacity": 1},
 "encoding": {"x": {"datum": 326.34, "type": "quantitative"}, "y": {"datum": 52.6, "type": "quantitative"}}},
{"data": {"name": "one"},
 "mark": {"type": "text", "font": "Liberation Sans", "fontSize": 25, "fontWeight": "bold", "color": "black", "align": "center", "baseline": "middle"},
 "encoding": {"x": {"datum": 300.15, "type": "quantitative"}, "y": {"datum": 106.4, "type": "quantitative"}, "text": {"value": "XEVO-TQD#QCA375"}}},
{"data": {"name": "one"},
 "mark": {"type": "text", "font": "Liberation Sans", "fontSize": 25, "fontWeight": "bold", "color": "black", "align": "right", "baseline": "middle"},
 "encoding": {"x": {"datum": 389.63, "type": "quantitative"}, "y": {"datum": 106.4, "type": "quantitative"}, "text": {"value": "05-Jun-2020"}}},
{"data": {"name": "one"},
 "mark": {"type": "text", "font": "Liberation Sans", "fontSize": 25, "fontWeight": "bold", "color": "black", "align": "right", "baseline": "middle"},
 "encoding": {"x": {"datum": 406.96, "type": "quantitative"}, "y": {"datum": 106.4, "type": "quantitative"}, "text": {"value": "08:44:18"}}},
{"data": {"name": "one"},
 "mark": {"type": "text", "font": "Liberation Sans", "fontSize": 22.5, "color": "black", "align": "left", "baseline": "middle"},
 "encoding": {"x": {"datum": 193.6, "type": "quantitative"}, "y": {"datum": 103.55, "type": "quantitative"}, "text": {"value": "MS_SCAN_TZD28-_50 1 (0.251)"}}},
{"data": {"name": "one"},
 "mark": {"type": "text", "font": "Liberation Sans", "fontSize": 22, "color": "black", "align": "right", "baseline": "middle"},
 "encoding": {"x": {"datum": 406.65, "type": "quantitative"}, "y": {"datum": 103.55, "type": "quantitative"}, "text": {"value": "MS2 ES-"}}},
{"data": {"name": "one"},
 "mark": {"type": "text", "font": "Liberation Sans", "fontSize": 22, "color": "black", "align": "right", "baseline": "middle"},
 "encoding": {"x": {"datum": 406.65, "type": "quantitative"}, "y": {"datum": 101.15, "type": "quantitative"}, "text": {"value": "1.20e6"}}}
]
}
